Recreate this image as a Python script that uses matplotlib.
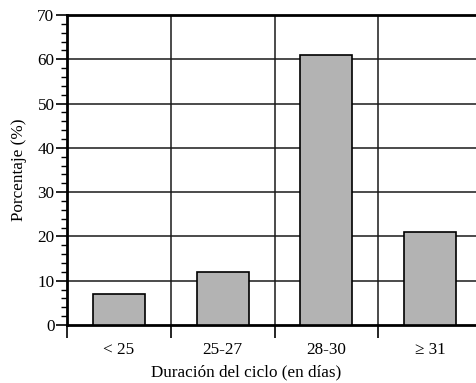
import matplotlib
matplotlib.use("Agg")
import matplotlib.pyplot as plt
from matplotlib.ticker import MultipleLocator, FixedLocator, NullFormatter

categories = ["< 25", "25-27", "28-30", "\u2265 31"]
values = [7, 12, 61, 21]

plt.rcParams["font.family"] = ["Liberation Serif", "DejaVu Serif"]
FS = 12.3

W, H = 477, 383
fig = plt.figure(figsize=(W / 100, H / 100), dpi=100)
left, right, top, bottom = 67, 482, 15, 325
ax = fig.add_axes([left / W, (H - bottom) / H, (right - left) / W, (bottom - top) / H])

x = list(range(len(categories)))
ax.bar(x, values, width=0.5, color="#b3b3b3", edgecolor="black", linewidth=1.2, zorder=3)

ax.set_xlim(-0.5, len(categories) - 0.5)
ax.set_ylim(0, 70)

# y axis: major every 10, minor every 2, pointing outward
ax.yaxis.set_major_locator(MultipleLocator(10))
ax.yaxis.set_minor_locator(MultipleLocator(2))
ax.tick_params(axis="y", which="major", direction="out", length=8, width=1.2, labelsize=FS, pad=1)
ax.tick_params(axis="y", which="minor", direction="out", length=4, width=1.0)

# x axis: ticks at group boundaries, labels at group centres
bounds = [i - 0.5 for i in range(len(categories))]
ax.xaxis.set_major_locator(FixedLocator(bounds))
ax.xaxis.set_major_formatter(NullFormatter())
ax.xaxis.set_minor_locator(FixedLocator(x))
ax.set_xticklabels(categories, minor=True)
ax.tick_params(axis="x", which="major", direction="out", length=9, width=1.2)
ax.tick_params(axis="x", which="minor", length=0, labelsize=FS, pad=12)

# grid lines
for yv in range(10, 70, 10):
    ax.axhline(yv, color="#1a1a1a", linewidth=1.1, zorder=1)
for xv in bounds[1:]:
    ax.axvline(xv, color="#1a1a1a", linewidth=1.1, zorder=1)

for s in ["left", "bottom", "top"]:
    ax.spines[s].set_linewidth(2)
ax.spines["right"].set_visible(False)

ax.set_ylabel("Porcentaje (%)", fontsize=FS)
ax.set_xlabel("Duración del ciclo (en días)", fontsize=FS)
ax.yaxis.set_label_coords(-(left - 19) / (right - left), 0.5)
ax.xaxis.set_label_coords((W / 2 - left + 8) / (right - left), -(372 - bottom) / (bottom - top))
ax.xaxis.label.set_verticalalignment("center")
ax.yaxis.label.set_verticalalignment("center")

fig.savefig("out.png", dpi=100)
